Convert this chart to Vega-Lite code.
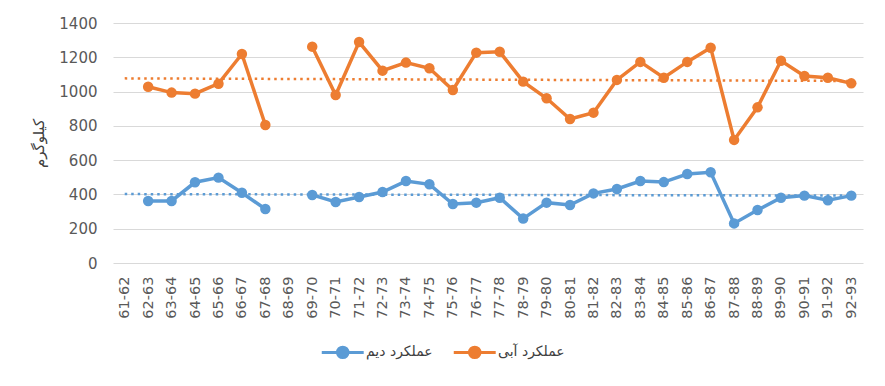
{
  "$schema": "https://vega.github.io/schema/vega-lite/v6.json",
  "autosize": "none",
  "width": 750,
  "height": 240,
  "padding": {"left": 113, "top": 23, "right": 22, "bottom": 123},
  "background": "white",
  "config": {"view": {"stroke": null}, "font": "DejaVu Sans"},
  "datasets": {
    "yield": [
      {"year": "61-62", "s": "عملکرد دیم", "v": null},
      {"year": "62-63", "s": "عملکرد دیم", "v": 362},
      {"year": "63-64", "s": "عملکرد دیم", "v": 362},
      {"year": "64-65", "s": "عملکرد دیم", "v": 471},
      {"year": "65-66", "s": "عملکرد دیم", "v": 498},
      {"year": "66-67", "s": "عملکرد دیم", "v": 410},
      {"year": "67-68", "s": "عملکرد دیم", "v": 315},
      {"year": "68-69", "s": "عملکرد دیم", "v": null},
      {"year": "69-70", "s": "عملکرد دیم", "v": 397},
      {"year": "70-71", "s": "عملکرد دیم", "v": 356},
      {"year": "71-72", "s": "عملکرد دیم", "v": 385},
      {"year": "72-73", "s": "عملکرد دیم", "v": 414},
      {"year": "73-74", "s": "عملکرد دیم", "v": 478},
      {"year": "74-75", "s": "عملکرد دیم", "v": 459},
      {"year": "75-76", "s": "عملکرد دیم", "v": 344},
      {"year": "76-77", "s": "عملکرد دیم", "v": 352},
      {"year": "77-78", "s": "عملکرد دیم", "v": 381},
      {"year": "78-79", "s": "عملکرد دیم", "v": 259},
      {"year": "79-80", "s": "عملکرد دیم", "v": 352},
      {"year": "80-81", "s": "عملکرد دیم", "v": 338},
      {"year": "81-82", "s": "عملکرد دیم", "v": 406},
      {"year": "82-83", "s": "عملکرد دیم", "v": 432},
      {"year": "83-84", "s": "عملکرد دیم", "v": 478},
      {"year": "84-85", "s": "عملکرد دیم", "v": 472},
      {"year": "85-86", "s": "عملکرد دیم", "v": 519},
      {"year": "86-87", "s": "عملکرد دیم", "v": 529},
      {"year": "87-88", "s": "عملکرد دیم", "v": 231},
      {"year": "88-89", "s": "عملکرد دیم", "v": 309},
      {"year": "89-90", "s": "عملکرد دیم", "v": 381},
      {"year": "90-91", "s": "عملکرد دیم", "v": 393},
      {"year": "91-92", "s": "عملکرد دیم", "v": 366},
      {"year": "92-93", "s": "عملکرد دیم", "v": 393},
      {"year": "61-62", "s": "عملکرد آبی", "v": null},
      {"year": "62-63", "s": "عملکرد آبی", "v": 1028},
      {"year": "63-64", "s": "عملکرد آبی", "v": 994},
      {"year": "64-65", "s": "عملکرد آبی", "v": 988},
      {"year": "65-66", "s": "عملکرد آبی", "v": 1046},
      {"year": "66-67", "s": "عملکرد آبی", "v": 1219},
      {"year": "67-68", "s": "عملکرد آبی", "v": 805},
      {"year": "68-69", "s": "عملکرد آبی", "v": null},
      {"year": "69-70", "s": "عملکرد آبی", "v": 1262},
      {"year": "70-71", "s": "عملکرد آبی", "v": 980},
      {"year": "71-72", "s": "عملکرد آبی", "v": 1289},
      {"year": "72-73", "s": "عملکرد آبی", "v": 1122},
      {"year": "73-74", "s": "عملکرد آبی", "v": 1169},
      {"year": "74-75", "s": "عملکرد آبی", "v": 1136},
      {"year": "75-76", "s": "عملکرد آبی", "v": 1009},
      {"year": "76-77", "s": "عملکرد آبی", "v": 1227},
      {"year": "77-78", "s": "عملکرد آبی", "v": 1232},
      {"year": "78-79", "s": "عملکرد آبی", "v": 1058},
      {"year": "79-80", "s": "عملکرد آبی", "v": 961},
      {"year": "80-81", "s": "عملکرد آبی", "v": 840},
      {"year": "81-82", "s": "عملکرد آبی", "v": 877},
      {"year": "82-83", "s": "عملکرد آبی", "v": 1068},
      {"year": "83-84", "s": "عملکرد آبی", "v": 1173},
      {"year": "84-85", "s": "عملکرد آبی", "v": 1081},
      {"year": "85-86", "s": "عملکرد آبی", "v": 1173},
      {"year": "86-87", "s": "عملکرد آبی", "v": 1256},
      {"year": "87-88", "s": "عملکرد آبی", "v": 718},
      {"year": "88-89", "s": "عملکرد آبی", "v": 908},
      {"year": "89-90", "s": "عملکرد آبی", "v": 1180},
      {"year": "90-91", "s": "عملکرد آبی", "v": 1091},
      {"year": "91-92", "s": "عملکرد آبی", "v": 1081},
      {"year": "92-93", "s": "عملکرد آبی", "v": 1048}
    ],
    "trend": [
      {"year": "61-62", "s": "عملکرد دیم", "v": 402},
      {"year": "92-93", "s": "عملکرد دیم", "v": 393},
      {"year": "61-62", "s": "عملکرد آبی", "v": 1077},
      {"year": "92-93", "s": "عملکرد آبی", "v": 1062}
    ]
  },
  "encoding": {
    "x": {
      "field": "year",
      "type": "ordinal",
      "scale": {"type": "point", "padding": 0.5, "domain": ["61-62","62-63","63-64","64-65","65-66","66-67","67-68","68-69","69-70","70-71","71-72","72-73","73-74","74-75","75-76","76-77","77-78","78-79","79-80","80-81","81-82","82-83","83-84","84-85","85-86","86-87","87-88","88-89","89-90","90-91","91-92","92-93"]},
      "axis": {
        "title": null,
        "labelAngle": -90,
        "labelFont": "DejaVu Sans",
        "labelFontSize": 14.5,
        "labelColor": "#595959",
        "labelPadding": 13,
        "ticks": false,
        "domain": false,
        "grid": false
      }
    },
    "y": {
      "field": "v",
      "type": "quantitative",
      "scale": {"domain": [0, 1400], "nice": false, "zero": true},
      "axis": {
        "title": "کیلوگرم",
        "titleFont": "DejaVu Sans",
        "titleFontSize": 15,
        "titleFontWeight": "normal",
        "titleColor": "#404040",
        "titlePadding": 12,
        "format": "d",
        "values": [0, 200, 400, 600, 800, 1000, 1200, 1400],
        "labelFont": "DejaVu Sans",
        "labelFontSize": 15,
        "labelColor": "#595959",
        "labelPadding": 16,
        "ticks": false,
        "domain": false,
        "grid": true,
        "gridColor": "#D9D9D9",
        "gridWidth": 1
      }
    },
    "color": {
      "field": "s",
      "type": "nominal",
      "scale": {"domain": ["عملکرد دیم", "عملکرد آبی"], "range": ["#5B9BD5", "#ED7D31"]},
      "legend": {
        "title": null,
        "orient": "none",
        "direction": "horizontal",
        "legendX": 207,
        "legendY": 322,
        "symbolType": "M-1,0H7M4,0A1,1 0 1,1 2,0A1,1 0 1,1 4,0Z",
        "symbolSize": 110,
        "symbolStrokeWidth": 3,
        "labelFont": "DejaVu Sans",
        "labelFontSize": 14,
        "labelColor": "#404040",
        "labelOffset": 32,
        "columnPadding": 14,
        "encode": {
          "symbols": {
            "update": {
              "fill": {"scale": "color", "field": "value"},
              "stroke": {"scale": "color", "field": "value"},
              "strokeWidth": {"value": 3},
              "opacity": {"value": 1}
            }
          }
        }
      }
    }
  },
  "layer": [
    {
      "data": {"name": "trend"},
      "mark": {"type": "line", "strokeWidth": 2.5, "strokeDash": [2.5, 4], "strokeCap": "butt"},
      "encoding": {"detail": {"field": "s"}}
    },
    {
      "data": {"name": "yield"},
      "mark": {"type": "line", "strokeWidth": 3.5, "invalid": "break-paths-filter-domains"},
      "encoding": {}
    },
    {
      "data": {"name": "yield"},
      "mark": {"type": "point", "filled": true, "size": 110, "opacity": 1},
      "encoding": {}
    }
  ]
}
